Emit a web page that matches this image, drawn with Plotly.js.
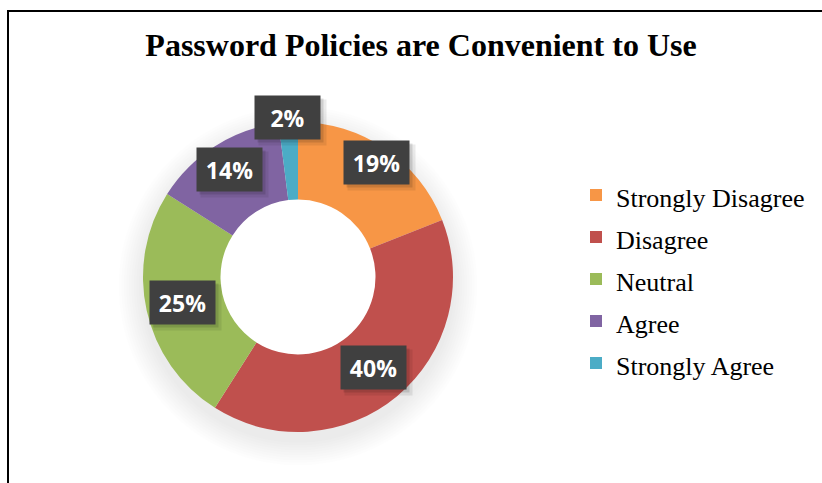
<!DOCTYPE html>
<html><head><meta charset="utf-8">
<script src="https://cdn.plot.ly/plotly-3.0.1.min.js"></script>
<style>html,body{margin:0;padding:0;background:#fff}#chart{width:822px;height:483px}</style>
</head><body><div id="chart"></div>
<script>
const categories = ["Strongly Disagree", "Disagree", "Neutral", "Agree", "Strongly Agree"];
const values = [19, 40, 25, 14, 2];
const colors = ["#F79646", "#C0504D", "#9BBB59", "#8064A2", "#4BACC6"];
const titleText = "Password Policies are Convenient to Use";
// label distance from centre (px), as placed by the original's best-fit labels
const labelRadius = [139, 118, 118, 127, 160];

const W = 822, H = 483;
const cx = 298, cy = 277, R = 155, HOLE = 0.5;
const dom = {x: [(cx - R) / W, (cx + R) / W], y: [1 - (cy + R) / H, 1 - (cy - R) / H]};

const total = values.reduce((a, b) => a + b, 0);
const annotations = [];
let cum = 0;
values.forEach((v, i) => {
  const mid = (cum + v / 2) / total * 2 * Math.PI;
  cum += v;
  const r = labelRadius[i];
  const px = cx + r * Math.sin(mid), py = cy - r * Math.cos(mid);
  const label = Math.round(v / total * 100) + "%";
  const base = {xref: "paper", yref: "paper", x: px / W, y: 1 - py / H, showarrow: false,
    width: 63, height: 41, xanchor: "center", yanchor: "middle"};
  annotations.push(Object.assign({}, base, {text: " ", bgcolor: "rgba(0,0,0,0.08)", xshift: 5, yshift: -5, width: 65, height: 43}));
  annotations.push(Object.assign({}, base, {text: " ", bgcolor: "rgba(0,0,0,0.12)", xshift: 3, yshift: -3}));
  annotations.push(Object.assign({}, base, {text: "<b>" + label + "</b>", bgcolor: "#404040",
    font: {family: "Open Sans", size: 23, color: "#ffffff"}}));
});

const shapes = [
  {type: "line", xref: "paper", yref: "paper", x0: 8 / W, x1: 8 / W, y0: 1 - 10 / H, y1: -0.05, line: {color: "#000", width: 2}},
  {type: "line", xref: "paper", yref: "paper", x0: 7 / W, x1: 1.05, y0: 1 - 11 / H, y1: 1 - 11 / H, line: {color: "#000", width: 2}}
];
for (let k = 0; k < 10; k++) {
  const rr = R + 2 + k * 2.5;
  const oy = cy + 9;
  shapes.push({type: "circle", xref: "paper", yref: "paper", layer: "below",
    x0: (cx - rr) / W, x1: (cx + rr) / W, y0: 1 - (oy + rr) / H, y1: 1 - (oy - rr) / H,
    fillcolor: "rgba(0,0,0,0.009)", line: {width: 0}});
}
const hr = R * HOLE;
shapes.push({type: "circle", xref: "paper", yref: "paper", layer: "below",
  x0: (cx - hr - 1) / W, x1: (cx + hr + 1) / W, y0: 1 - (cy + hr + 1) / H, y1: 1 - (cy - hr - 1) / H,
  fillcolor: "#ffffff", line: {width: 0}});

const legendLabels = categories.map(c => '<span style="font-size:26px">' + c + '</span>');

const data = [{
  type: "pie", labels: legendLabels, values: values, hole: HOLE, sort: false, direction: "clockwise", rotation: 0,
  marker: {colors: colors, line: {width: 0}}, textinfo: "none", hoverinfo: "percent",
  domain: dom
}];

const layout = {
  width: W, height: H, margin: {l: 0, r: 0, t: 0, b: 0}, paper_bgcolor: "#fff",
  title: {text: "<b>" + titleText + "</b>", font: {family: "Liberation Serif", size: 32, color: "#000"},
    x: 421 / W, xanchor: "center", y: 1 - 45 / H, yanchor: "middle"},
  showlegend: true,
  legend: {x: 576 / W, y: 1 - 169 / H, xanchor: "left", yanchor: "top", font: {family: "Liberation Serif", size: 30, color: "#000"},
    itemwidth: 30, bgcolor: "rgba(0,0,0,0)", tracegroupgap: 0},
  annotations: annotations, shapes: shapes
};
Plotly.newPlot("chart", data, layout, {displayModeBar: false});
</script></body></html>
